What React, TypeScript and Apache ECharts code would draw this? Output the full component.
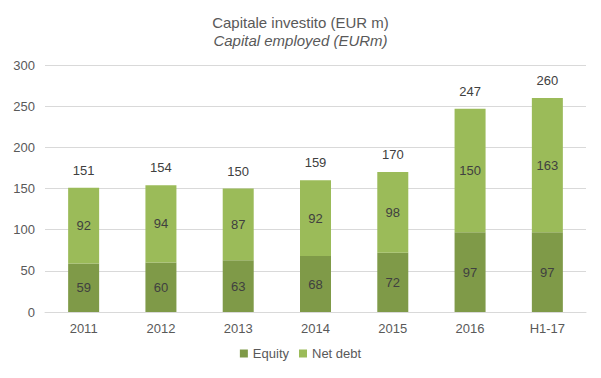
import React, { useEffect, useRef } from "react";
import * as echarts from "echarts";

const categories = ["2011", "2012", "2013", "2014", "2015", "2016", "H1-17"];
const equity = [59, 60, 63, 68, 72, 97, 97];
const netDebt = [92, 94, 87, 92, 98, 150, 163];
const totals = [151, 154, 150, 159, 170, 247, 260];

const FONT = "'Liberation Sans', Arial, sans-serif";

export default function App() {
  const ref = useRef<HTMLDivElement>(null);
  useEffect(() => {
    if (!ref.current) return;
    const chart = echarts.init(ref.current, undefined, { renderer: "svg" });
    chart.setOption({
      animation: false,
      textStyle: { fontFamily: FONT },
      title: {
        text: "Capitale investito (EUR m)",
        subtext: "Capital employed (EURm)",
        left: "center",
        top: 2,
        itemGap: 3,
        textStyle: { fontSize: 15, fontWeight: "normal", color: "#595959", fontFamily: FONT },
        subtextStyle: { fontSize: 15, fontStyle: "italic", color: "#595959", fontFamily: FONT },
      },
      legend: {
        data: ["Equity", "Net debt"],
        bottom: 5,
        left: "center",
        itemWidth: 8,
        itemHeight: 8,
        itemGap: 10,
        icon: "rect",
        textStyle: { fontSize: 13, color: "#595959", fontFamily: FONT },
      },
      grid: { left: 37, right: 7, top: 57, bottom: 58 },
      xAxis: {
        type: "category",
        data: categories,
        axisTick: { show: false },
        axisLine: { lineStyle: { color: "#d9d9d9" } },
        axisLabel: { color: "#595959", fontSize: 13, margin: 10 },
      },
      yAxis: {
        type: "value",
        min: 0,
        max: 300,
        interval: 50,
        axisLine: { show: false },
        axisTick: { show: false },
        axisLabel: { color: "#595959", fontSize: 13, margin: 10 },
        splitLine: { lineStyle: { color: "#d9d9d9" } },
      },
      series: [
        {
          name: "Equity",
          type: "bar",
          stack: "a",
          barWidth: 31,
          data: equity,
          itemStyle: { color: "#7F9A48" },
          label: { show: true, position: "inside", color: "#404040", fontSize: 13 },
        },
        {
          name: "Net debt",
          type: "bar",
          stack: "a",
          data: netDebt,
          itemStyle: { color: "#9BBB59" },
          label: { show: true, position: "inside", color: "#404040", fontSize: 13 },
        },
        {
          name: "Total",
          type: "bar",
          stack: "a",
          data: totals.map(() => 0),
          itemStyle: { color: "transparent" },
          label: {
            show: true,
            position: "top",
            distance: 11,
            color: "#404040",
            fontSize: 13,
            formatter: (p: any) => String(totals[p.dataIndex]),
          },
        },
      ],
    });
    return () => chart.dispose();
  }, []);
  return <div ref={ref} style={{ width: 585, height: 362 }} />;
}
